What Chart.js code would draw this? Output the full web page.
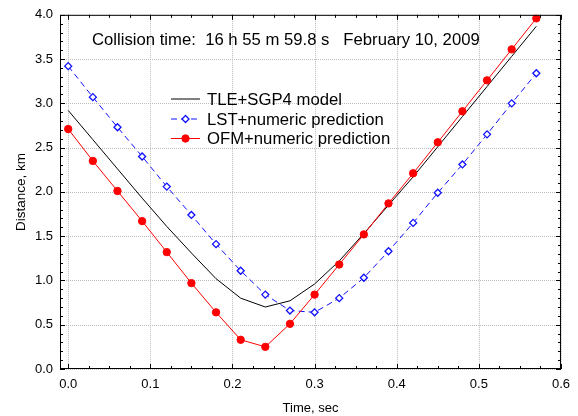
<!DOCTYPE html>
<html>
<head>
<meta charset="utf-8">
<script src="https://cdn.jsdelivr.net/npm/chart.js@4.4.1/dist/chart.umd.min.js"></script>
<style>
  html, body { margin: 0; padding: 0; background: #fff; }
</style>
</head>
<body>
<canvas id="chart" width="578" height="416"></canvas>
<script>
// time, sec
const times = [0, 0.03, 0.06, 0.09, 0.12, 0.15, 0.18, 0.21, 0.24, 0.27,
               0.30, 0.33, 0.36, 0.39, 0.42, 0.45, 0.48, 0.51, 0.54, 0.57];
// distance, km
const tleSgp4 = [2.92, 2.59, 2.26, 1.93, 1.61, 1.31, 1.02, 0.80, 0.70, 0.77,
                 0.96, 1.22, 1.53, 1.85, 2.17, 2.51, 2.85, 3.19, 3.53, 3.87];
const lstNumeric = [3.42, 3.07, 2.73, 2.40, 2.06, 1.74, 1.41, 1.11, 0.84, 0.66,
                    0.64, 0.80, 1.03, 1.33, 1.65, 1.99, 2.31, 2.65, 3.00, 3.34];
const ofmNumeric = [2.71, 2.35, 2.01, 1.67, 1.32, 0.97, 0.64, 0.33, 0.25, 0.51,
                    0.84, 1.18, 1.52, 1.87, 2.21, 2.56, 2.91, 3.26, 3.61, 3.96];

const seriesNames = ['TLE+SGP4 model', 'LST+numeric prediction', 'OFM+numeric prediction'];
const xTicks = [0, 0.1, 0.2, 0.3, 0.4, 0.5, 0.6];
const yTicks = [0, 0.5, 1.0, 1.5, 2.0, 2.5, 3.0, 3.5, 4.0];
const titleText = 'Collision time:  16 h 55 m 59.8 s   February 10, 2009';

const FONT = '"Liberation Sans", Arial, sans-serif';
const toPoints = (ys) => times.map((t, i) => ({ x: t, y: ys[i] }));

// dotted grid under the lines
const dottedGrid = {
  id: 'dottedGrid',
  beforeDatasetsDraw(chart) {
    const ctx = chart.ctx;
    const { left, right, top, bottom } = chart.chartArea;
    ctx.save();
    ctx.strokeStyle = '#bdbdbd';
    ctx.lineWidth = 1;
    ctx.setLineDash([1, 1]);
    ctx.beginPath();
    chart.scales.x.ticks.forEach(t => {
      const px = Math.round(chart.scales.x.getPixelForValue(t.value)) + 0.5;
      ctx.moveTo(px, top); ctx.lineTo(px, bottom);
    });
    chart.scales.y.ticks.forEach(t => {
      const py = Math.round(chart.scales.y.getPixelForValue(t.value)) + 0.5;
      ctx.moveTo(left, py); ctx.lineTo(right, py);
    });
    ctx.stroke();
    ctx.restore();
  }
};

// frame, inward ticks, caption and legend drawn over the plot
const decorations = {
  id: 'decorations',
  afterDraw(chart) {
    const ctx = chart.ctx;
    const { left, right, top, bottom } = chart.chartArea;
    const xs = chart.scales.x, ys = chart.scales.y;
    ctx.save();
    ctx.strokeStyle = '#000';
    ctx.lineWidth = 1;
    ctx.strokeRect(left + 0.5, top + 0.5, right - left - 1, bottom - top - 1);

    ctx.beginPath();
    // x ticks every 0.025, major every 0.1
    for (let k = 0; k <= 24; k++) {
      const px = Math.round(xs.getPixelForValue(k * 0.025)) + 0.5;
      const len = k % 4 === 0 ? 5 : 3;
      ctx.moveTo(px, bottom); ctx.lineTo(px, bottom - len);
      ctx.moveTo(px, top); ctx.lineTo(px, top + len);
    }
    // y ticks every 0.1, major every 0.5
    for (let k = 0; k <= 40; k++) {
      const py = Math.round(ys.getPixelForValue(k * 0.1)) + 0.5;
      const len = k % 5 === 0 ? 5 : 3;
      ctx.moveTo(left, py); ctx.lineTo(left + len, py);
      ctx.moveTo(right, py); ctx.lineTo(right - len, py);
    }
    ctx.stroke();

    // caption
    ctx.fillStyle = '#000';
    ctx.font = '16.7px ' + FONT;
    ctx.textBaseline = 'middle';
    ctx.textAlign = 'left';
    ctx.fillText(titleText, 92, 40);

    // legend
    const lx = 171, lw = 29, tx = 207;
    const rows = [99, 119, 138.5];
    ctx.font = '16.7px ' + FONT;
    chart.data.datasets.forEach((ds, i) => {
      const y = rows[i];
      ctx.beginPath();
      ctx.strokeStyle = ds.borderColor;
      ctx.lineWidth = 1;
      ctx.setLineDash(ds.borderDash || []);
      ctx.moveTo(lx, y); ctx.lineTo(lx + lw, y);
      ctx.stroke();
      ctx.setLineDash([]);
      if (ds.pointRadius > 0) {
        const cx = lx + lw / 2;
        const r = ds.pointRadius;
        ctx.beginPath();
        if (ds.pointStyle === 'rectRot') {
          ctx.moveTo(cx, y - r); ctx.lineTo(cx + r, y); ctx.lineTo(cx, y + r); ctx.lineTo(cx - r, y);
          ctx.closePath();
        } else {
          ctx.arc(cx, y, r, 0, Math.PI * 2);
        }
        ctx.fillStyle = ds.pointBackgroundColor;
        ctx.fill();
        ctx.lineWidth = ds.pointBorderWidth;
        ctx.strokeStyle = ds.pointBorderColor;
        ctx.stroke();
      }
      ctx.fillStyle = '#000';
      ctx.fillText(ds.label, tx, y + 1);
    });
    ctx.restore();
  }
};

new Chart(document.getElementById('chart').getContext('2d'), {
  type: 'line',
  data: {
    datasets: [
      {
        label: seriesNames[0],
        data: toPoints(tleSgp4),
        borderColor: '#000000',
        borderWidth: 1,
        pointRadius: 0,
        order: 3
      },
      {
        label: seriesNames[1],
        data: toPoints(lstNumeric),
        borderColor: '#1010ff',
        borderWidth: 1,
        borderDash: [6, 4],
        pointStyle: 'rectRot',
        pointRadius: 3.5,
        pointBackgroundColor: '#ffffff',
        pointBorderColor: '#1010ff',
        pointBorderWidth: 1.3,
        order: 2
      },
      {
        label: seriesNames[2],
        data: toPoints(ofmNumeric),
        borderColor: '#ff0000',
        borderWidth: 1,
        pointStyle: 'circle',
        pointRadius: 3.7,
        pointBackgroundColor: '#ff0000',
        pointBorderColor: '#ff0000',
        pointBorderWidth: 1,
        order: 1
      }
    ]
  },
  options: {
    responsive: false,
    animation: false,
    layout: { padding: { left: 0, right: 17, top: 13, bottom: 0 } },
    plugins: { legend: { display: false }, tooltip: { enabled: false } },
    scales: {
      x: {
        type: 'linear',
        min: -0.01,
        max: 0.6,
        afterBuildTicks: (scale) => { scale.ticks = xTicks.map(v => ({ value: v })); },
        afterFit: (scale) => { scale.height = 47; },
        grid: { display: false, drawTicks: false },
        border: { display: false },
        ticks: {
          padding: 8,
          color: '#000',
          font: { family: FONT, size: 13 },
          maxRotation: 0,
          callback: (v) => Number(v).toFixed(1)
        },
        title: {
          display: true,
          text: 'Time, sec',
          color: '#000',
          font: { family: FONT, size: 13 },
          padding: { top: 0, bottom: 0 }
        }
      },
      y: {
        min: 0,
        max: 4,
        afterBuildTicks: (scale) => { scale.ticks = yTicks.map(v => ({ value: v })); },
        afterFit: (scale) => { scale.width = 60; },
        grid: { display: false, drawTicks: false },
        border: { display: false },
        ticks: {
          padding: 7,
          color: '#000',
          font: { family: FONT, size: 13 },
          callback: (v) => Number(v).toFixed(1)
        },
        title: {
          display: true,
          text: 'Distance, km',
          color: '#000',
          font: { family: FONT, size: 13.5 },
          padding: { top: 13, bottom: 0 }
        }
      }
    }
  },
  plugins: [dottedGrid, decorations]
});
</script>
</body>
</html>
